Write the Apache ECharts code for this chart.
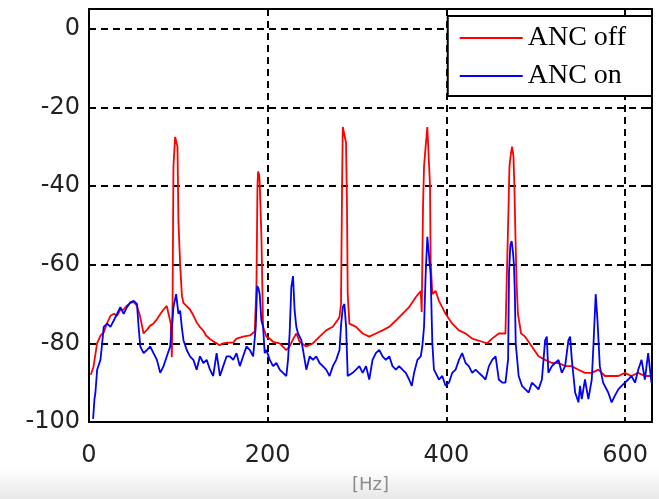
<!DOCTYPE html>
<html>
<head>
<meta charset="utf-8">
<script src="https://cdn.jsdelivr.net/npm/echarts@6/dist/echarts.min.js"></script>
<style>
html,body{margin:0;padding:0;background:#fff;}
#c{width:659px;height:499px;}
</style>
</head>
<body>
<div id="c"></div>
<script>
const seriesNames = ['ANC off', 'ANC on'];
const xTicks = [0, 200, 400, 600];
const yTicks = [-100, -80, -60, -40, -20, 0];

const offHz = [2,5,9,13,16.5,20,24,28,31.4,35,38.8,42,46.2,50,53.7,57,61.1,65,68.5,72,76,80,83.4,87,89,91.5,92.7,93.5,94.5,96.4,98,99,100.1,102,104,105.7,109,113,117,120.5,124,128,131,135.4,139,142.8,146,150.2,155,161.4,165.1,172.5,180,185.5,187.4,188.5,189.2,190.3,191,192.9,194.8,198.5,202.3,206,213.4,220.8,224.5,228.3,232,235.7,243,250.5,258,265.4,272.8,278.4,280.3,282,283.2,284,285.8,287.6,288.7,289.5,291.4,298.8,306.2,313.6,321,328.5,336,343.4,350.8,358.2,365.6,371.2,372.3,373.8,374.9,376.7,378.6,380.5,381.6,382.3,384.2,387.9,391.6,399,406.5,414,421.4,428.8,440,445.5,451,458.6,466,468,469.5,470.5,472,473.4,475,476,477,478.5,480,483.5,488,495.6,503,510.4,518,525.4,533,540,547.7,555,562.6,570,577.4,585,592.3,599.7,607,614.6,622,629.4];
const offDb = [-88,-86,-80,-78,-77.2,-75,-73,-72.5,-73,-71.5,-71.4,-70.5,-69.7,-69.5,-70.5,-73,-77.5,-76.5,-75.5,-75,-73.9,-72.5,-71.4,-70.5,-70.1,-75,-83.5,-70,-35,-27.5,-27.8,-30,-49,-60,-68,-69.7,-70.5,-71.4,-73,-74.7,-75.8,-76.8,-78,-78.9,-79.5,-80,-80.5,-80,-79.8,-79.8,-78.8,-78.3,-78,-77,-65,-40,-36.3,-37,-39,-52.5,-75.8,-78.3,-78.8,-79.6,-80,-81.7,-80.8,-79,-77.5,-79.6,-80.8,-80,-78.3,-76.7,-75.8,-74,-73.3,-70,-40,-25,-24.6,-29,-45,-67.5,-75,-75.8,-77.5,-78.3,-77.5,-76.7,-75.8,-74.2,-72.5,-70.8,-68.3,-66.7,-72,-45,-35,-30,-25,-25.4,-40,-59.2,-67.5,-66.7,-69.2,-72.5,-75,-76.7,-77.5,-78.8,-79.6,-80,-78.8,-77.5,-77.5,-77,-45,-35,-32,-30,-32.5,-40,-50.8,-65,-72.5,-77.5,-78.3,-80.8,-83.3,-84.2,-85,-85,-85.8,-85.8,-86.7,-87.5,-87.5,-86.7,-88.3,-88.3,-88.3,-87.5,-88.3,-87.5,-88.3,-88.3];

const onHz = [4.6,6.1,7.2,9.1,12.8,14.7,16.5,20.3,24,27.7,31.4,35.1,38.8,42.5,46.2,50,53.7,55.5,57.4,61.1,64.8,68.5,72.2,76,79.7,83.4,87.1,90.8,94.5,97.5,100.1,102,103.8,105.7,109.4,113,116.8,120.5,124.2,128,131.7,135.4,139,142.8,146.5,150.2,154,157.7,161.4,165.1,168.8,172.5,176.2,180,183.7,186.6,188.1,189.6,191,192.9,194.8,196.6,198.5,202.3,206,209.7,213.4,217.1,220.8,222.7,224.5,226.4,228.3,230.1,232,233.9,235.7,237.6,239.5,243.2,247,250.6,254.3,258,261.7,265.4,269.2,272.9,276.6,280.3,282.2,284,285.8,287.7,289.5,295,298.8,302.5,306.2,310,313.6,317.3,321,324.8,328.5,332.2,336,339.6,343.4,347,350.8,354.5,358.2,361.2,363.8,367.5,371.2,373,374.9,376.7,378.6,380.5,382.3,384.2,386,387.9,391.6,395.3,399,402.8,406.5,410.2,414,417.6,421.4,425,428.8,432.6,436.3,440,443.7,447.5,451.2,455,458.6,462.4,466,469,470,471.5,473,474.5,475.5,476.5,477.5,480.8,484.5,488.3,492,495.6,499.4,503,506.8,508.6,510.4,512.3,514,518,521.6,525.4,529,532.8,536.5,538.4,540.3,544,547.7,549.5,551.4,555,558.8,562.6,564.4,567,569,571.6,575.3,581,584.8,588.5,592.3,596,599.7,603.4,607,611,614.6,618.3,622,625.7,629.4];
const onDb = [-99.2,-94.2,-92.5,-86.7,-84.2,-80,-75.8,-75,-75.8,-74.2,-72.5,-70.8,-72.5,-70.8,-69.6,-69.2,-70,-75.8,-80.8,-82.5,-81.7,-80.8,-82.5,-84.2,-87.5,-85.8,-83.3,-80.8,-70.8,-67.5,-72.5,-71.7,-75.8,-79.2,-81.7,-83.3,-84.2,-86.7,-83.3,-85,-84.2,-86.7,-88.3,-82.5,-88.3,-85.8,-83.3,-83.3,-84.2,-82.5,-85.8,-83.3,-80.8,-81.7,-83.3,-75.8,-65.4,-66,-67.5,-74.2,-75.8,-82.5,-81.7,-84.2,-85.8,-85,-86.7,-87.5,-88.3,-84.2,-77.5,-65.8,-62.9,-71.7,-75.8,-77.5,-77.5,-79.2,-81.7,-86.7,-83.3,-84.2,-83.3,-85,-85.8,-86.7,-88.3,-85.8,-84.2,-81.7,-75,-70.8,-70,-75.8,-88.3,-87.5,-86.7,-85.8,-87.5,-85.8,-89.2,-84.2,-82.5,-81.7,-83.3,-84.2,-83.3,-85.8,-86.7,-85.8,-86.7,-87.5,-89.2,-90.8,-87.5,-84.2,-83.3,-80.8,-75.8,-62.5,-52.9,-53.3,-62.5,-80,-86.7,-87.5,-89.2,-88.3,-90.8,-90,-87.5,-86.7,-84.2,-82.5,-85,-85.8,-87.5,-86.7,-87.5,-88.3,-89.2,-85.8,-84.2,-83.3,-89.2,-90,-90,-84,-62,-55,-54,-57,-60,-67,-80,-88.3,-90.8,-91.7,-92.5,-90,-90.8,-91.7,-89.2,-84.2,-79.2,-78.3,-87.5,-85.8,-85,-84.2,-87.5,-85.8,-79.2,-78.3,-84.2,-92.5,-95,-90.8,-94.2,-89.2,-94.2,-89.2,-80.8,-67.5,-74.2,-85.8,-90,-92.5,-95,-93.3,-91.7,-90.8,-90,-89.2,-88.3,-90,-86.7,-84.2,-89.2,-82.5,-90];

const pairs = (xs, ys) => xs.map((x, i) => [x, ys[i]]);

const chart = echarts.init(document.getElementById('c'), null, {renderer: 'canvas'});
const labelFont = {fontFamily: 'DejaVu Sans', fontSize: 24, color: '#222'};
const gridDash = {color: '#000', width: 2, type: [7, 5]};
const frameLine = {show: true, onZero: false, lineStyle: {color: '#000', width: 2}};
const innerTick = {show: true, inside: true, length: 5, lineStyle: {color: '#000', width: 2}};

chart.setOption({
  animation: false,
  backgroundColor: '#fff',
  graphic: [{
    type: 'rect', left: 0, top: 468, z: -10,
    shape: {width: 659, height: 31},
    style: {fill: new echarts.graphic.LinearGradient(0, 0, 0, 1, [
      {offset: 0, color: '#ffffff'}, {offset: 1, color: '#e8e8e8'}])}
  }],
  grid: {left: 89, right: 7, top: 9, bottom: 71, show: true,
         borderColor: '#000', borderWidth: 2, backgroundColor: 'transparent'},
  legend: {
    orient: 'vertical', right: 7, top: 16,
    data: seriesNames.map(n => ({name: n, icon: 'rect'})),
    backgroundColor: '#fff', borderColor: '#000', borderWidth: 2,
    padding: [8, 26, 6, 12],
    itemWidth: 63, itemHeight: 2, itemGap: 10,
    textStyle: {fontFamily: 'Liberation Serif', fontSize: 28, color: '#000', lineHeight: 28}
  },
  xAxis: [{
    type: 'value', min: 0, max: 630, interval: 200,
    name: '[Hz]', nameLocation: 'middle', nameGap: 54,
    nameTextStyle: {fontFamily: 'DejaVu Sans', fontSize: 18, color: '#8c8c8c'},
    axisLine: frameLine, axisTick: innerTick,
    axisLabel: Object.assign({margin: 22, showMaxLabel: false, formatter: v => xTicks.includes(v) ? String(v) : ''}, labelFont),
    splitLine: {show: true, lineStyle: gridDash}
  }, {
    type: 'value', min: 0, max: 630, interval: 200, position: 'top',
    axisLine: frameLine, axisTick: innerTick,
    axisLabel: {show: false}, splitLine: {show: false}
  }],
  yAxis: [{
    type: 'value', min: -100, max: 5, interval: 20,
    axisLine: frameLine, axisTick: innerTick,
    axisLabel: Object.assign({margin: 9, showMaxLabel: false, formatter: v => yTicks.includes(v) ? String(v) : ''}, labelFont),
    splitLine: {show: true, lineStyle: gridDash}
  }, {
    type: 'value', min: -100, max: 5, interval: 20, position: 'right',
    axisLine: frameLine, axisTick: innerTick,
    axisLabel: {show: false}, splitLine: {show: false}
  }],
  series: [{
    name: seriesNames[0], type: 'line', data: pairs(offHz, offDb),
    symbol: 'none', showSymbol: false, clip: true,
    lineStyle: {color: '#ff0000', width: 1.8}, itemStyle: {color: '#ff0000'}, z: 3
  }, {
    name: seriesNames[1], type: 'line', data: pairs(onHz, onDb),
    symbol: 'none', showSymbol: false, clip: true,
    lineStyle: {color: '#0000ff', width: 1.8}, itemStyle: {color: '#0000ff'}, z: 4
  }]
});
</script>
</body>
</html>
